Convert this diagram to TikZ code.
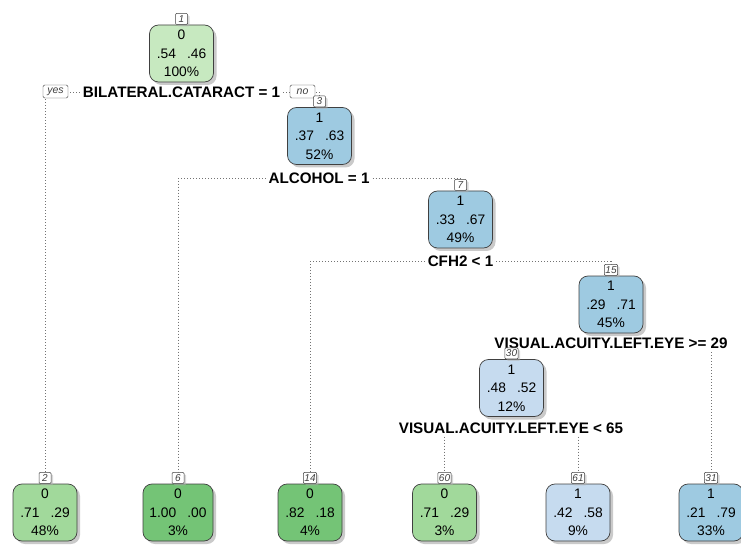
\documentclass[tikz,border=0pt]{standalone}
\usepackage{fontspec}
\setmainfont{Liberation Sans}
\usetikzlibrary{positioning, shadows, backgrounds}
\definecolor{greenLight}{HTML}{C7E9C0}
\definecolor{greenMid}{HTML}{A1D99B}
\definecolor{greenDark}{HTML}{74C476}
\definecolor{blueMid}{HTML}{9ECAE1}
\definecolor{blueLight}{HTML}{C6DBEF}
\tikzstyle{treenode} = [rectangle, rounded corners=9pt, minimum width=64pt, minimum height=57pt, align=center,
draw=black!75, line width=0.7pt, inner sep=2pt, font=\fontsize{13.8}{18.5}\selectfont,
drop shadow={shadow xshift=3pt, shadow yshift=-3pt, fill=black!35, opacity=0.6}]
\tikzstyle{numlab} = [rectangle, rounded corners=1pt, minimum width=12pt, minimum height=11pt, inner sep=1pt,
draw=black!75, fill=white, line width=0.5pt, text=black!75, font=\fontsize{10}{10}\selectfont\itshape,
drop shadow={shadow xshift=2pt, shadow yshift=-2pt, fill=black!30, opacity=0.5}]
\tikzstyle{splitlab} = [inner sep=3pt, font=\fontsize{15.2}{15.2}\selectfont\bfseries]
\tikzstyle{yesno} = [rectangle, rounded corners=1.5pt, minimum width=25pt, minimum height=13pt, inner sep=1pt,
draw=black!75, fill=white, text=black!75, font=\fontsize{10.5}{10.5}\selectfont\itshape]
\tikzstyle{edge} = [draw=black!55, line width=0.8pt, dash pattern=on 0.8pt off 2.2pt]
\newcommand{\probs}[2]{#1\hspace{0.8em}#2}

\begin{document}
\begin{tikzpicture}[x=1pt, y=-1pt]
    \useasboundingbox (0,0) rectangle (741,545);

    % inner nodes
    \node(nodeOne)[treenode, fill=greenLight] at (181.5,53.5) {0\\\probs{.54}{.46}\\100\%};
    \node(nodeThree)[treenode, fill=blueMid] at (319.5,136) {1\\\probs{.37}{.63}\\52\%};
    \node(nodeSeven)[treenode, fill=blueMid] at (460.5,219.5) {1\\\probs{.33}{.67}\\49\%};
    \node(nodeFifteen)[treenode, fill=blueMid] at (611,304.5) {1\\\probs{.29}{.71}\\45\%};
    \node(nodeThirty)[treenode, fill=blueLight] at (511.5,388) {1\\\probs{.48}{.52}\\12\%};

    % leaves
    \node(nodeTwo)[treenode, fill=greenMid] at (45,512.5) {0\\\probs{.71}{.29}\\48\%};
    \node(nodeSix)[treenode, fill=greenDark, minimum width=70pt] at (178,512.5) {0\\\probs{1.00}{.00}\\3\%};
    \node(nodeFourteen)[treenode, fill=greenDark] at (310,512.5) {0\\\probs{.82}{.18}\\4\%};
    \node(nodeSixty)[treenode, fill=greenMid] at (444.5,512.5) {0\\\probs{.71}{.29}\\3\%};
    \node(nodeSixtyOne)[treenode, fill=blueLight] at (578,512.5) {1\\\probs{.42}{.58}\\9\%};
    \node(nodeThirtyOne)[treenode, fill=blueMid] at (711,512.5) {1\\\probs{.21}{.79}\\33\%};

    % split labels
    \node(splitOne)[splitlab] at (181.5,92) {BILATERAL.CATARACT = 1};
    \node(splitThree)[splitlab] at (319,178) {ALCOHOL = 1};
    \node(splitSeven)[splitlab] at (460.5,261.5) {CFH2 < 1};
    \node(splitFifteen)[splitlab] at (611,343.5) {VISUAL.ACUITY.LEFT.EYE >= 29};
    \node(splitThirty)[splitlab] at (511,428) {VISUAL.ACUITY.LEFT.EYE < 65};

    \node(yesBox)[yesno] at (55.5,91.5) {yes};
    \node(noBox)[yesno] at (302.5,91.5) {no};

    % node numbers
    \node(numOne)[numlab, above=0pt of nodeOne] {1};
    \node(numThree)[numlab, above=0pt of nodeThree] {3};
    \node(numSeven)[numlab, above=0pt of nodeSeven] {7};
    \node(numFifteen)[numlab, above=0pt of nodeFifteen] {15};
    \node(numThirty)[numlab, above=0pt of nodeThirty] {30};
    \node(numTwo)[numlab, above=0pt of nodeTwo] {2};
    \node(numSix)[numlab, above=0pt of nodeSix] {6};
    \node(numFourteen)[numlab, above=0pt of nodeFourteen] {14};
    \node(numSixty)[numlab, above=0pt of nodeSixty] {60};
    \node(numSixtyOne)[numlab, above=0pt of nodeSixtyOne] {61};
    \node(numThirtyOne)[numlab, above=0pt of nodeThirtyOne] {31};

    \begin{scope}[on background layer]
    \draw[edge] (splitOne.west) -| (numTwo.north);
    \draw[edge] (splitOne.east) -| (numThree.north);
    \draw[edge] (splitThree.west) -| (numSix.north);
    \draw[edge] (splitThree.east) -| (numSeven.north);
    \draw[edge] (splitSeven.west) -| (numFourteen.north);
    \draw[edge] (splitSeven.east) -| (numFifteen.north);
    \draw[edge] (splitFifteen.south -| numThirtyOne.north) -- (numThirtyOne.north);
    \draw[edge] (splitThirty.south -| numSixty.north) -- (numSixty.north);
    \draw[edge] (splitThirty.south -| numSixtyOne.north) -- (numSixtyOne.north);
    \end{scope}
\end{tikzpicture}
\end{document}
